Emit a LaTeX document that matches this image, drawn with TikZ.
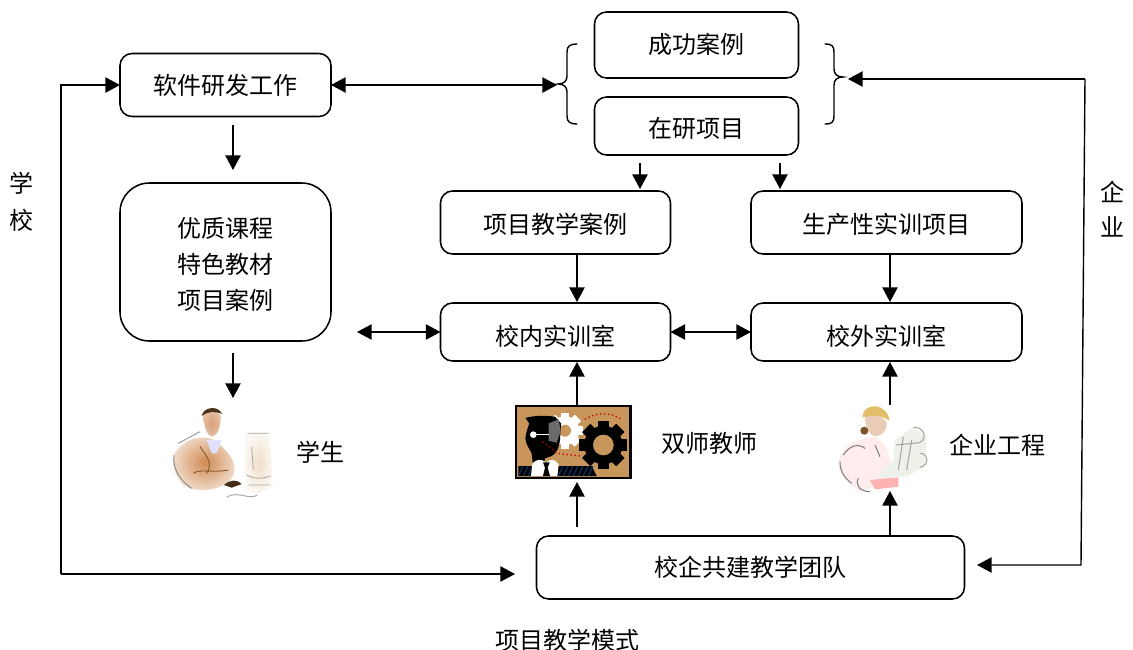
\documentclass[tikz,border=0pt]{standalone}
\usepackage{fontspec}
\setmainfont{Noto Sans CJK SC}
\usetikzlibrary{arrows.meta}
\definecolor{tanbg}{HTML}{C8965A}
\definecolor{skin}{HTML}{D9A27A}
\definecolor{suit}{HTML}{D08A52}
\definecolor{pc}{HTML}{F3E3D0}
\definecolor{hat}{HTML}{E3BE6A}
\definecolor{paper}{HTML}{E8EDE2}
\tikzset{
  wh/.style 2 args={minimum width=#1*0.75pt,minimum height=#2*0.75pt},
  box/.style={draw=black,line width=1.15pt,rounded corners=9pt,inner sep=0pt,outer sep=0pt,align=center},
  lbl/.style={inner sep=0pt,outer sep=0pt,align=center},
  conn/.style={line width=1.05pt,draw=black},
  tip/.style={-{Triangle[length=11pt,width=11.5pt]}},
  tips/.style={{Triangle[length=11pt,width=11.5pt]}-{Triangle[length=11pt,width=11.5pt]}},
  brace/.style={line width=1.05pt,draw=black,line cap=round},
  every node/.style={font=\fontsize{18}{27}\selectfont}
}
\newcommand{\dn}[2]{\raisebox{-#1pt}[\height][\depth]{#2}}
\newcommand{\gearshape}[4]{% x y outer colour
  \foreach \a in {0,45,...,315}{
    \fill[#4,rotate around={\a:(#1,#2)}] (#1-#3*0.24,#2-#3) rectangle (#1+#3*0.24,#2+#3);
  }
  \fill[#4] (#1,#2) circle[radius=#3*0.8];
}
\begin{document}
\begin{tikzpicture}[x=0.75pt,y=-0.75pt]
\useasboundingbox[fill=white] (0,0) rectangle (1133,650);

% boxes
\node[box,wh={211}{63}] (soft) at (225.5,85) {软件研发工作};
\node[box,wh={204}{66}] (succ) at (696.5,45) {\dn{-0.7}{成功案例}};
\node[box,wh={204}{58}] (res) at (696.5,126) {\dn{1.5}{在研项目}};
\node[box,wh={230}{63}] (case) at (555.5,222.5) {\dn{1.3}{项目教学案例}};
\node[box,wh={271}{63}] (prod) at (886.5,222.5) {\dn{1.3}{生产性实训项目}};
\node[box,wh={211}{158},rounded corners=22pt] (qual) at (225.5,262) {\dn{1.5}{优质课程}\\\dn{1.5}{特色教材}\\\dn{1.5}{项目案例}};
\node[box,wh={230}{58}] (inner) at (555.5,332) {\dn{3}{校内实训室}};
\node[box,wh={271}{58}] (outer) at (886.5,332) {\dn{3}{校外实训室}};
\node[box,wh={428}{63}] (team) at (750.5,567.5) {校企共建教学团队};

% free labels
\node[lbl] (l1) at (21,183) {学};
\node[lbl] (l2) at (21,220) {校};
\node[lbl] (r1) at (1112,192) {企};
\node[lbl] (r2) at (1112,227) {业};
\node[lbl] (stu) at (320,452) {学生};
\node[lbl] (dbl) at (709,443) {双师教师};
\node[lbl] (eng) at (997,445) {企业工程};
\node[lbl] (mode) at (567,640) {项目教学模式};

% braces
\draw[brace] (577,44) .. controls (570,44) and (567,46) .. (567,52) -- (567,76) .. controls (567,81) and (564,84) .. (558,84) .. controls (564,84) and (567,87) .. (567,92) -- (567,116) .. controls (567,122) and (570,124) .. (577,124);
\draw[brace] (825,44) .. controls (832,44) and (834,46) .. (834,52) -- (834,69) .. controls (834,74) and (837,77) .. (843,77) .. controls (837,77) and (834,80) .. (834,85) -- (834,116) .. controls (834,122) and (832,124) .. (825,124);

% free ends of connectors
\coordinate (lb1) at (61,85);
\coordinate (lb2) at (61,574);
\coordinate (lb3) at (515,574);
\coordinate (bl) at (557,85);
\coordinate (br) at (848,79);
\coordinate (rb1) at (1085,79);
\coordinate (rb2) at (1081,565);
\coordinate (rb3) at (977,565);
\coordinate (a1) at (233,125);
\coordinate (a2) at (233,170);
\coordinate (b1) at (233,353);
\coordinate (b2) at (233,398);
\coordinate (c1) at (357,332);
\coordinate (d1) at (640,163);
\coordinate (d2) at (640,189);
\coordinate (e1) at (780,163);
\coordinate (e2) at (780,189);
\coordinate (f1) at (577,254);
\coordinate (f2) at (577,302);
\coordinate (g1) at (890,254);
\coordinate (g2) at (890,302);
\coordinate (h1) at (577,406);
\coordinate (h2) at (577,362);
\coordinate (i1) at (890,405);
\coordinate (i2) at (890,362);
\coordinate (j1) at (577,527);
\coordinate (j2) at (577,482);
\coordinate (k1) at (890,536);
\coordinate (k2) at (890,491);

% connectors
\draw[conn,tip] (lb2) -- (lb1) -- (soft.west);
\draw[conn,tip] (lb2) -- (lb3);
\draw[conn,tips] (soft.east) -- (bl);
\draw[conn,tip] (a1) -- (a2);
\draw[conn,tip] (b1) -- (b2);
\draw[conn,tips] (c1) -- (inner.west);
\draw[conn,tips] (inner.east) -- (outer.west);
\draw[conn,tip] (d1) -- (d2);
\draw[conn,tip] (e1) -- (e2);
\draw[conn,tip] (f1) -- (f2);
\draw[conn,tip] (g1) -- (g2);
\draw[conn,tip] (h1) -- (h2);
\draw[conn,tip] (i1) -- (i2);
\draw[conn,tip] (j1) -- (j2);
\draw[conn,tip] (k1) -- (k2);
\draw[conn,tip] (rb1) -- (br);
\draw[conn,tip] (rb1) -- (rb2) -- (rb3);

% teacher picture
\begin{scope}[shift={(500,390)},x=0.25pt,y=-0.25pt]
  \fill[tanbg] (48,48) rectangle (392,264);
  \fill[black] (55,228) -- (275,228) -- (290,258) -- (55,258) -- cycle;
  \foreach \q in {55,70,...,85,175,190,...,265}{\draw[blue!35!teal!70!black,line width=0.8pt] (\q,258) -- (\q+14,228);}
  \gearshape{195}{122}{54}{white}
  \fill[tanbg] (195,122) circle[radius=18];
  \gearshape{310}{165}{72}{black}
  \fill[tanbg] (310,165) circle[radius=31];
  \fill[black] (76,84) .. controls (105,76) and (135,76) .. (165,80) -- (183,100) -- (180,150) .. controls (176,175) and (170,190) .. (155,198) -- (135,205) -- (132,222) -- (98,218) -- (95,190) .. controls (88,175) and (78,165) .. (76,145) .. controls (78,125) and (85,110) .. (88,100) -- cycle;
  \fill[black!58] (146,100) -- (176,88) -- (182,125) -- (170,158) -- (146,152) -- cycle;
  \fill[white] (93,258) -- (97,222) .. controls (110,205) and (125,207) .. (138,217) .. controls (152,207) and (165,205) .. (176,225) -- (172,258) -- cycle;
  \fill[black] (129,217) -- (149,217) -- (143,233) -- (150,258) -- (129,258) -- (135,233) -- cycle;
  \draw[white,line width=1pt] (100,134) -- (146,134);
  \fill[white] (100,134) circle[radius=10];
  \draw[red!75!black,line width=1pt,dotted] (128,155) -- (172,190) -- (240,198);
  \draw[red!75!black,line width=1pt,dotted] (255,88) .. controls (290,66) and (330,66) .. (365,88);
  \draw[black,line width=1.8pt] (48,48) rectangle (392,264);
\end{scope}

% student picture
\begin{scope}[shift={(150,390)},x=0.25pt,y=-0.25pt]
  \shade[inner color=pc!95!brown,outer color=pc!30!white] (285,128) -- (360,128) -- (368,290) -- (320,312) -- (285,295) -- cycle;
  \draw[black!35,line width=0.6pt] (295,130) -- (355,130) (305,170) -- (310,240) (290,255) .. controls (320,270) and (340,265) .. (362,258) (295,285) -- (360,285);
  \draw[black!35,line width=0.7pt] (230,322) .. controls (260,300) and (300,332) .. (322,315);
  \shade[inner color=suit,outer color=suit!25!white] (72,195) .. controls (95,145) and (170,125) .. (205,160) .. controls (240,190) and (268,225) .. (245,265) .. controls (215,305) and (130,310) .. (100,285) .. controls (78,262) and (62,225) .. (72,195) -- cycle;
  \draw[black!45,line width=0.7pt] (72,195) .. controls (68,225) and (80,265) .. (125,295);
  \draw[black!40,line width=0.7pt] (85,160) -- (150,125);
  \draw[brown!70!black,line width=0.7pt] (150,170) .. controls (170,200) and (190,220) .. (170,250) (130,250) .. controls (150,235) and (180,250) .. (235,240);
  \fill[white!88!blue] (170,150) -- (215,150) -- (200,190) -- (185,190) -- cycle;
  \shade[inner color=skin,outer color=skin!70!white] (160,75) .. controls (165,60) and (205,60) .. (212,78) .. controls (212,110) and (205,135) .. (185,140) .. controls (170,135) and (160,105) .. (160,75) -- cycle;
  \fill[black!60!brown] (155,78) .. controls (160,50) and (205,45) .. (216,72) .. controls (195,62) and (170,65) .. (155,78) -- cycle;
  \fill[black!65!brown] (222,285) .. controls (240,268) and (262,268) .. (275,282) -- (245,293) -- cycle;
\end{scope}

% engineer picture
\begin{scope}[shift={(820,390)},x=0.25pt,y=-0.25pt]
  \fill[red!7!white] (55,215) .. controls (65,165) and (110,145) .. (165,140) .. controls (205,160) and (220,220) .. (215,270) -- (120,305) .. controls (85,285) and (55,250) .. (55,215) -- cycle;
  \draw[black!50,line width=0.8pt] (70,195) .. controls (90,165) and (115,160) .. (135,175) (115,265) .. controls (105,285) and (120,305) .. (150,305) (60,215) .. controls (60,245) and (75,265) .. (95,280) (165,165) -- (180,200);
  \fill[paper!75!white] (225,150) -- (280,112) -- (318,140) -- (318,225) -- (260,260) -- (170,262) -- (220,210) -- cycle;
  \draw[black!35,line width=0.8pt] (280,112) .. controls (310,110) and (325,140) .. (300,158) -- (228,165) (300,190) .. controls (325,190) and (330,225) .. (300,232) (250,140) -- (235,240) (275,150) -- (260,240);
  \fill[red!30!white] (150,270) -- (235,262) -- (235,290) -- (165,298) -- cycle;
  \fill[skin!55!white] (135,80) .. controls (160,70) and (205,80) .. (200,110) .. controls (195,130) and (175,145) .. (155,135) .. controls (140,120) and (135,100) .. (135,80) -- cycle;
  \fill[brown!65!black] (133,122) circle[radius=12];
  \fill[hat] (128,82) .. controls (126,52) and (165,38) .. (190,58) .. controls (205,68) and (208,85) .. (208,92) .. controls (185,75) and (155,75) .. (128,82) -- cycle;
\end{scope}
\end{tikzpicture}
\end{document}
